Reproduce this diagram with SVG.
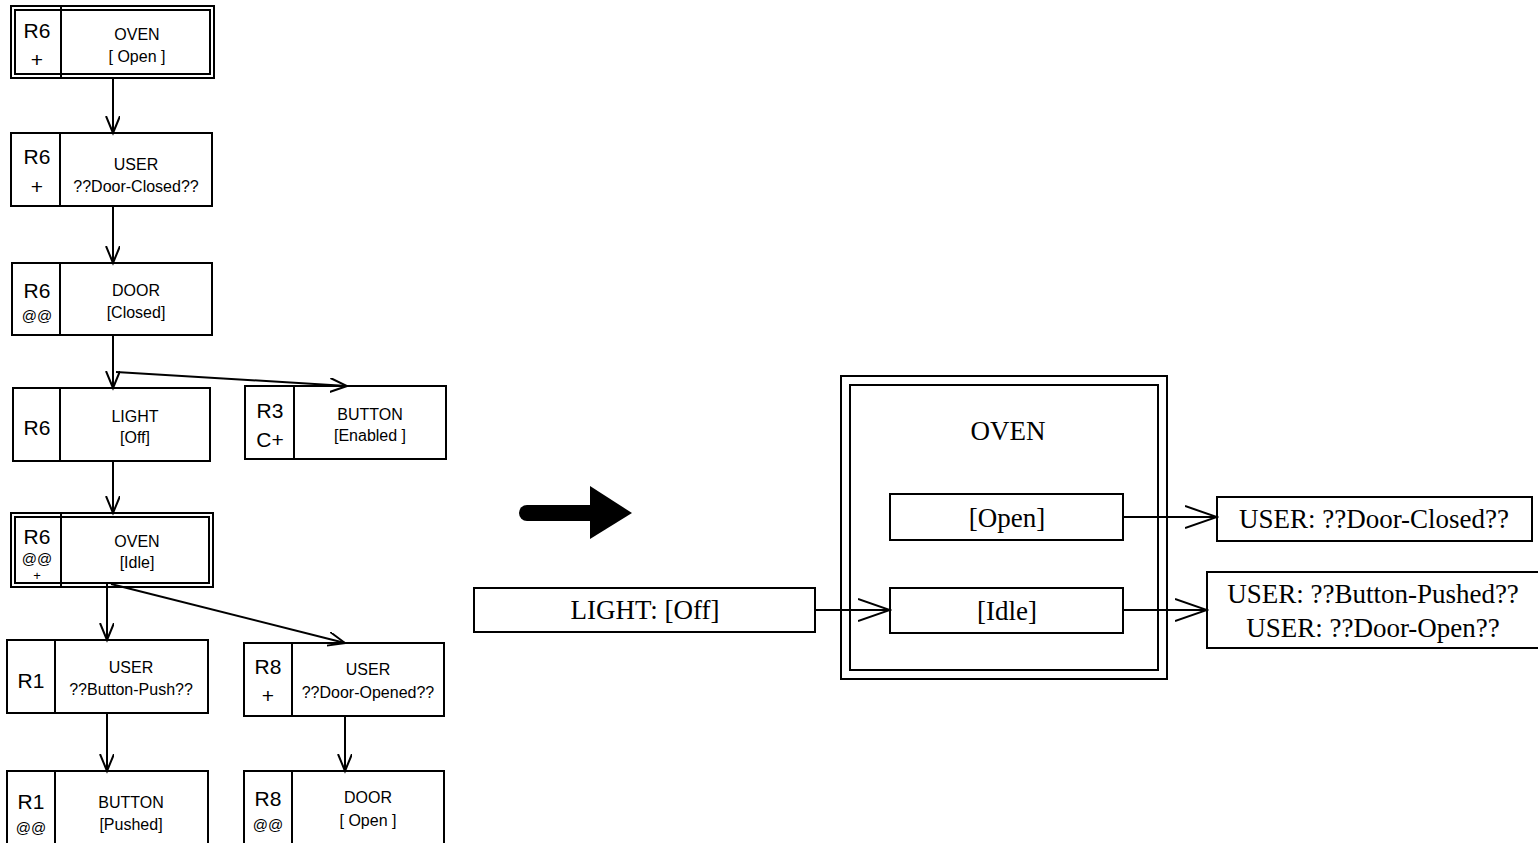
<svg xmlns="http://www.w3.org/2000/svg" width="1538" height="843" viewBox="0 0 1538 843">
<style>
.b{fill:#fff;stroke:#000;stroke-width:2}
.d{fill:none;stroke:#000;stroke-width:2}
.s{font-family:"Liberation Sans",Arial,sans-serif;fill:#000;text-anchor:middle}
.r{font-size:21px}
.n{font-size:16px}
.t{font-size:16px}
.a{font-size:15px}
.m{font-family:"Liberation Serif","Times New Roman",serif;font-size:27px;fill:#000;text-anchor:middle}
.c{fill:none;stroke:#000;stroke-width:2}
.ce{marker-end:url(#ah)}
.cb{marker-end:url(#ab)}
</style>
<defs>
<marker id="ah" markerUnits="userSpaceOnUse" markerWidth="20" markerHeight="16" refX="17" refY="7" orient="auto" viewBox="0 0 20 16">
<path d="M0,0 L17,7 L0,14" fill="none" stroke="#000" stroke-width="2"/>
</marker>
<marker id="ab" markerUnits="userSpaceOnUse" markerWidth="34" markerHeight="26" refX="32" refY="12" orient="auto" viewBox="0 0 34 26">
<path d="M0,1 L32,12 L0,23" fill="none" stroke="#000" stroke-width="2"/>
</marker>
</defs>
<rect width="1538" height="843" fill="#fff"/>

<g id="n-oven-open">
<rect class="b" x="11" y="6" width="203" height="72"/>
<rect class="d" x="15" y="10" width="195" height="64"/>
<line class="d" x1="61" y1="6" x2="61" y2="78"/>
<text class="s r" x="37" y="38">R6</text>
<text class="s r" x="37" y="67">+</text>
<text class="s n" x="137" y="40">OVEN</text>
<text class="s t" x="137" y="62">[ Open ]</text>
</g>

<g id="n-user-closed">
<rect class="b" x="11" y="133" width="201" height="73"/>
<line class="d" x1="60" y1="133" x2="60" y2="206"/>
<text class="s r" x="37" y="164">R6</text>
<text class="s r" x="37" y="194">+</text>
<text class="s n" x="136" y="170">USER</text>
<text class="s t" x="136" y="192">??Door-Closed??</text>
</g>

<g id="n-door-closed">
<rect class="b" x="12" y="263" width="200" height="72"/>
<line class="d" x1="60" y1="263" x2="60" y2="335"/>
<text class="s r" x="37" y="298">R6</text>
<text class="s a" x="37" y="321">@@</text>
<text class="s n" x="136" y="296">DOOR</text>
<text class="s t" x="136" y="318">[Closed]</text>
</g>

<g id="n-light-off">
<rect class="b" x="13" y="388" width="197" height="73"/>
<line class="d" x1="60" y1="388" x2="60" y2="461"/>
<text class="s r" x="37" y="435">R6</text>
<text class="s n" x="135" y="422">LIGHT</text>
<text class="s t" x="135" y="443">[Off]</text>
</g>

<g id="n-button-enabled">
<rect class="b" x="245" y="386" width="201" height="73"/>
<line class="d" x1="294" y1="386" x2="294" y2="459"/>
<text class="s r" x="270" y="418">R3</text>
<text class="s r" x="270" y="447">C+</text>
<text class="s n" x="370" y="420">BUTTON</text>
<text class="s t" x="370" y="441">[Enabled ]</text>
</g>

<g id="n-oven-idle">
<rect class="b" x="11" y="513" width="202" height="74"/>
<rect class="d" x="15" y="517" width="194" height="66"/>
<line class="d" x1="61" y1="513" x2="61" y2="587"/>
<text class="s r" x="37" y="544">R6</text>
<text class="s a" x="37" y="564">@@</text>
<text class="s" style="font-size:13px" x="37" y="580">+</text>
<text class="s n" x="137" y="547">OVEN</text>
<text class="s t" x="137" y="568">[Idle]</text>
</g>

<g id="n-user-button-push">
<rect class="b" x="7" y="640" width="201" height="73"/>
<line class="d" x1="55" y1="640" x2="55" y2="713"/>
<text class="s r" x="31" y="688">R1</text>
<text class="s n" x="131" y="673">USER</text>
<text class="s t" x="131" y="695">??Button-Push??</text>
</g>

<g id="n-user-door-opened">
<rect class="b" x="244" y="643" width="200" height="73"/>
<line class="d" x1="292" y1="643" x2="292" y2="716"/>
<text class="s r" x="268" y="674">R8</text>
<text class="s r" x="268" y="703">+</text>
<text class="s n" x="368" y="675">USER</text>
<text class="s t" x="368" y="698">??Door-Opened??</text>
</g>

<g id="n-button-pushed">
<rect class="b" x="7" y="771" width="201" height="76"/>
<line class="d" x1="55" y1="771" x2="55" y2="847"/>
<text class="s r" x="31" y="809">R1</text>
<text class="s a" x="31" y="833">@@</text>
<text class="s n" x="131" y="808">BUTTON</text>
<text class="s t" x="131" y="830">[Pushed]</text>
</g>

<g id="n-door-open">
<rect class="b" x="244" y="771" width="200" height="76"/>
<line class="d" x1="292" y1="771" x2="292" y2="847"/>
<text class="s r" x="268" y="806">R8</text>
<text class="s a" x="268" y="830">@@</text>
<text class="s n" x="368" y="803">DOOR</text>
<text class="s t" x="368" y="826">[ Open ]</text>
</g>

<g id="big-arrow">
<line x1="527" y1="513" x2="592" y2="513" stroke="#000" stroke-width="16" stroke-linecap="round"/>
<polygon points="590,486 632,513 590,539" fill="#000"/>
</g>

<g id="n-light">
<rect class="b" x="474" y="588" width="341" height="44"/>
<text class="m" x="645" y="619">LIGHT: [Off]</text>
</g>

<g id="n-oven">
<rect class="b" x="841" y="376" width="326" height="303"/>
<rect class="d" x="850" y="385" width="308" height="285"/>
<text class="m" x="1008" y="440">OVEN</text>
</g>

<g id="n-open">
<rect class="b" x="890" y="494" width="233" height="46"/>
<text class="m" x="1007" y="527">[Open]</text>
</g>

<g id="n-idle">
<rect class="b" x="890" y="588" width="233" height="45"/>
<text class="m" x="1007" y="620">[Idle]</text>
</g>

<g id="n-user-door-closed">
<rect class="b" x="1217" y="497" width="315" height="44"/>
<text class="m" x="1374" y="528">USER: ??Door-Closed??</text>
</g>

<g id="n-user-two">
<rect class="b" x="1207" y="572" width="336" height="76"/>
<text class="m" x="1373" y="603">USER: ??Button-Pushed??</text>
<text class="m" x="1373" y="637">USER: ??Door-Open??</text>
</g>

<g id="connectors">
<line class="c ce" x1="113" y1="78" x2="113" y2="133"/>
<line class="c ce" x1="113" y1="206" x2="113" y2="263"/>
<line class="c ce" x1="113" y1="335" x2="113" y2="388"/>
<line class="c ce" x1="116" y1="372" x2="347" y2="386"/>
<line class="c ce" x1="113" y1="461" x2="113" y2="513"/>
<line class="c ce" x1="107" y1="584" x2="107" y2="640"/>
<line class="c ce" x1="111" y1="584" x2="345" y2="643"/>
<line class="c ce" x1="107" y1="713" x2="107" y2="771"/>
<line class="c ce" x1="345" y1="716" x2="345" y2="771"/>
<line class="c cb" x1="815" y1="610" x2="890" y2="610"/>
<line class="c cb" x1="1123" y1="517" x2="1217" y2="517"/>
<line class="c cb" x1="1123" y1="610" x2="1207" y2="610"/>
</g>
</svg>
